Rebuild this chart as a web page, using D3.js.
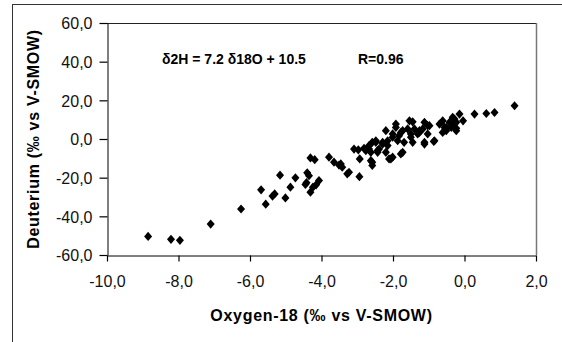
<!DOCTYPE html>
<html><head><meta charset="utf-8">
<script src="https://cdn.jsdelivr.net/npm/d3@7"></script>
<style>
html,body{margin:0;padding:0;background:#fff;}
svg{display:block;font-family:"Liberation Sans",Arial,sans-serif;}
</style></head>
<body>
<svg id="chart" width="562" height="342"></svg>
<script>
// δ18O values (x) and δ2H values (y)
const oxygen18 = [
-8.85,-8.21,-7.96,-7.10,-6.25,-5.69,-5.56,-5.37,-5.31,-5.01,-5.16,-4.87,-4.73,-4.40,-4.35,-4.42,-4.45,-4.31,-4.31,-4.19,-4.07,-4.15,-4.24,-3.79,-3.65,-3.51,-3.42,-3.28,-3.46,-3.23,-2.94,
-3.09,-2.97,-2.93,-2.81,-2.67,-2.58,-2.48,-2.62,-2.58,-2.62,-2.58,-2.43,-2.29,-2.39,-2.20,-2.06,-2.15,-2.76,-2.67,-2.43,-2.11,-2.01,-1.78,-2.29,-2.48,-2.20,-2.01,-1.92,-1.92,-1.78,-1.69,-1.73,-1.54,-1.50,-1.45,-1.26,-1.12,-1.03,-0.84,-2.15,-1.87,-2.01,-1.83,-1.59,-1.73,-1.40,-1.31,-1.50,-1.45,-1.12,-1.17,-1.03,-1.12,-0.86,
-0.98,-1.26,-0.70,-0.61,-0.51,-0.37,-0.61,-0.23,-0.23,-0.04,-0.33,-0.14,-0.28,-0.42,-0.56,-0.33,-0.23,-0.51,0.28,0.61,0.84,1.40
];
const deuterium = [
-50.4,-51.9,-52.4,-44.0,-36.2,-26.3,-33.7,-29.5,-28.4,-30.5,-18.7,-24.9,-20.1,-17.5,-19.0,-22.6,-23.5,-27.5,-9.8,-10.7,-21.5,-23.7,-24.9,-9.4,-12.0,-13.5,-14.6,-18.0,-12.9,-17.2,-19.5,
-5.2,-5.6,-10.3,-4.8,-3.4,-1.7,-0.9,-6.9,-12.0,-11.2,-13.7,-6.9,-2.6,-5.2,-6.9,-10.3,-3.4,-6.0,-5.2,-6.0,-10.3,-9.4,-7.7,-1.7,-1.7,4.3,2.6,7.7,6.0,3.4,-1.7,-6.9,9.4,2.6,-1.7,4.3,-1.7,6.9,-0.9,-0.9,-0.9,0.9,1.7,5.2,4.3,5.2,2.6,0.9,8.9,8.6,5.2,2.6,-2.6,-1.3,
6.9,3.4,7.7,9.4,6.0,6.0,3.4,4.3,8.6,9.4,11.2,12.9,10.3,8.6,6.0,6.9,5.5,4.3,12.9,13.2,13.7,17.2
];
const xTicks = [-10,-8,-6,-4,-2,0,2];
const yTicks = [-60,-40,-20,0,20,40,60];
const xTitle = "Oxygen-18 (\u2030 vs V-SMOW)";
const yTitle = "Deuterium (\u2030 vs V-SMOW)";
const equationFit = "\u03B42H = 7.2 \u03B418O + 10.5";
const equationR = "R=0.96";

const svg = d3.select("#chart");
const pLeft = 107, pRight = 536, pTop = 23, pBottom = 255;
const x = d3.scaleLinear().domain([-10, 2]).range([pLeft, pRight]);
const y = d3.scaleLinear().domain([-60, 60]).range([pBottom, pTop]);
const fmt = d => d3.format(".1f")(d).replace(".", ",").replace("\u2212", "-");

// outer frame
svg.append("line").attr("x1",12).attr("x2",562).attr("y1",4.5).attr("y2",4.5).attr("stroke","#333");
svg.append("line").attr("x1",12.5).attr("x2",12.5).attr("y1",4).attr("y2",342).attr("stroke","#333");

// plot area border
svg.append("line").attr("x1",pLeft).attr("x2",pRight).attr("y1",pTop+0.5).attr("y2",pTop+0.5).attr("stroke","#222");
svg.append("line").attr("x1",pRight+0.5).attr("x2",pRight+0.5).attr("y1",pTop).attr("y2",pBottom).attr("stroke","#777").attr("stroke-width",1.5);

// axes
const xAxis = svg.append("g").attr("transform",`translate(0,${pBottom+0.5})`)
  .call(d3.axisBottom(x).tickValues(xTicks).tickFormat(fmt).tickSize(6).tickSizeOuter(0));
const yAxis = svg.append("g").attr("transform",`translate(${pLeft+0.5},0)`)
  .call(d3.axisLeft(y).tickValues(yTicks).tickFormat(fmt).tickSize(8).tickSizeOuter(0));
[xAxis,yAxis].forEach(g=>{
  g.selectAll("path").attr("stroke","#000");
  g.selectAll("line").attr("stroke","#000").attr("stroke-width",1.2);
  g.selectAll("text").attr("fill","#111").style("font-size","16px").style("font-family","'Liberation Sans',Arial,sans-serif");
});
xAxis.selectAll("text").attr("dy","0").attr("y",31.5);
yAxis.selectAll("text").attr("x",-15).attr("dy","0.36em");

// points
const pts = oxygen18.map((v,i)=>({o:v,d:deuterium[i]}));
svg.append("g").selectAll("path").data(pts).join("path")
  .attr("transform", p=>`translate(${x(p.o)},${y(p.d)})`)
  .attr("d","M0,-4.6L4,0L0,4.6L-4,0Z")
  .attr("fill","#000");

// equation
const eq = svg.append("text").attr("y",64).style("font-size","14px").style("font-weight","bold");
eq.append("tspan").attr("x",162).text(equationFit);
eq.append("tspan").attr("x",358).text(equationR);

// axis titles
svg.append("text").attr("x",(pLeft+pRight)/2).attr("y",321).attr("text-anchor","middle")
  .style("font-size","16px").style("font-weight","bold").style("letter-spacing","0.7px")
  .text(xTitle);
svg.append("text").attr("transform",`translate(39,${(pTop+pBottom)/2}) rotate(-90)`).attr("text-anchor","middle")
  .style("font-size","16px").style("font-weight","bold").style("letter-spacing","0.7px")
  .text(yTitle);
</script>
</body></html>
